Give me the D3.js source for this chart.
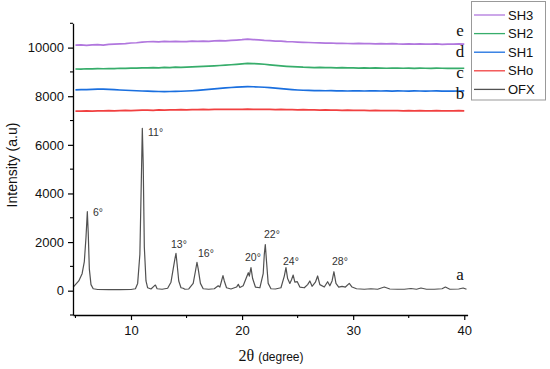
<!DOCTYPE html>
<html><head><meta charset="utf-8">
<script src="https://cdn.jsdelivr.net/npm/d3@7"></script>
<style>html,body{margin:0;padding:0;background:#fff;}svg{display:block;}</style>
</head><body><svg id="c" width="550" height="369"></svg>
<script>
// ---- data ----
const seriesNames = ["SH3", "SH2", "SH1", "SHo", "OFX"];
const seriesLetters = ["e", "d", "c", "b", "a"];
const seriesColors = ["#B177DE", "#37AD6B", "#1A6FDF", "#F14040", "#515151"];
const xTicks = [10, 20, 30, 40];
const yTicks = [0, 2000, 4000, 6000, 8000, 10000];

const thetaGrid = [5,5.5,6,6.5,7,7.5,8,8.5,9,9.5,10,10.5,11,11.5,12,12.5,13,13.5,14,14.5,15,15.5,16,16.5,17,17.5,18,18.5,19,19.5,20,20.5,21,21.5,22,22.5,23,23.5,24,24.5,25,25.5,26,26.5,27,27.5,28,28.5,29,29.5,30,30.5,31,31.5,32,32.5,33,33.5,34,34.5,35,35.5,36,36.5,37,37.5,38,38.5,39,39.5,40];

const sh3 = [10100,10115,10095,10110,10120,10105,10130,10140,10150,10165,
10190,10200,10225,10240,10250,10235,10255,10245,10260,10250,
10245,10265,10255,10270,10260,10275,10285,10280,10300,10310,
10325,10350,10330,10320,10300,10290,10270,10265,10245,10240,
10225,10215,10210,10200,10195,10185,10190,10175,10180,10170,
10165,10175,10160,10165,10155,10160,10150,10165,10150,10145,
10155,10140,10150,10145,10140,10150,10135,10145,10140,10150,10145];
const sh2 = [9120,9115,9130,9125,9135,9130,9140,9135,9150,9145,
9160,9155,9165,9170,9175,9170,9185,9180,9195,9190,
9200,9210,9215,9225,9240,9250,9265,9280,9295,9310,
9330,9350,9345,9330,9315,9290,9270,9250,9230,9215,
9205,9195,9190,9180,9185,9175,9180,9170,9175,9165,
9170,9160,9165,9155,9165,9160,9150,9160,9155,9150,
9160,9145,9155,9150,9145,9155,9150,9145,9150,9145,9150];
const sh1 = [8260,8270,8275,8285,8295,8290,8280,8270,8255,8245,
8235,8225,8215,8210,8200,8195,8190,8195,8200,8205,
8215,8225,8240,8260,8280,8300,8320,8345,8360,8375,
8385,8395,8390,8380,8370,8355,8335,8310,8290,8270,
8255,8245,8240,8230,8235,8225,8230,8220,8225,8215,
8225,8220,8215,8225,8220,8215,8220,8210,8220,8215,
8210,8220,8215,8210,8215,8220,8210,8215,8210,8215,8220];
const sho = [7390,7385,7395,7390,7400,7395,7405,7400,7410,7415,
7410,7420,7425,7430,7420,7435,7430,7440,7435,7445,
7440,7450,7445,7455,7450,7460,7455,7465,7460,7465,
7460,7470,7460,7465,7455,7460,7450,7455,7445,7450,
7440,7445,7435,7440,7430,7435,7425,7430,7420,7425,
7415,7420,7415,7410,7415,7405,7410,7405,7410,7400,
7405,7400,7405,7395,7400,7405,7400,7395,7400,7405,7400];

const ofxTheta = [4.8,5.0,5.3,5.6,5.8,5.95,6.07,6.15,6.25,6.4,6.6,7.0,8,9,10,10.4,10.6,10.8,10.95,11.02,11.1,11.2,11.35,11.5,11.8,12.1,12.2,12.35,12.8,13.3,13.6,13.8,13.95,14.05,14.15,14.3,14.5,14.7,14.85,15.2,15.6,15.8,15.94,16.05,16.25,16.5,17.0,17.5,17.85,18.0,18.15,18.28,18.4,18.6,19,19.5,19.66,19.8,20.1,20.4,20.56,20.65,20.8,20.95,21.2,21.6,21.9,22.0,22.09,22.2,22.35,22.6,23.0,23.5,23.8,23.95,24.1,24.3,24.45,24.6,24.75,24.97,25.2,25.6,25.9,26.1,26.3,26.6,26.8,27.0,27.4,27.7,27.9,28.1,28.27,28.45,28.7,29,29.3,29.65,29.9,30.3,31,31.6,32.2,32.8,33.3,34,34.6,35.2,35.7,36.1,36.6,37.3,38.0,38.3,38.7,39.5,39.9,40.2];
const ofxI = [150,250,400,700,1200,2200,3250,2400,900,250,80,50,40,45,50,80,300,1500,5000,6680,5200,1800,400,120,70,200,230,80,60,100,350,900,1300,1540,1100,400,120,100,60,70,300,800,1170,900,300,80,60,80,200,150,400,620,400,120,70,150,260,130,200,550,740,600,950,500,150,120,700,1500,1900,1200,300,80,70,120,600,950,500,300,450,645,350,370,150,120,250,400,180,350,605,250,150,370,200,400,780,300,150,180,150,300,150,80,60,80,60,150,70,60,60,90,60,110,60,60,80,150,60,70,110,60];

const peakLabels = ["6°", "11°", "13°", "16°", "20°", "22°", "24°", "28°"];
const peakLabelTheta = [6.58, 11.53, 13.6, 16.03, 20.26, 21.97, 23.68, 28.09];
const peakLabelI = [3070, 6370, 1760, 1390, 1220, 2170, 1060, 1060];

// ---- chart ----
const svg = d3.select("#c");
const x = d3.scaleLinear().domain([4.78, 40.3]).range([73, 467.6]);
const y = d3.scaleLinear().domain([-1000, 11000]).range([315, 23.3]);
const font = "'Liberation Sans', Arial, sans-serif";

const flat = [sh3, sh2, sh1, sho];
const line = d3.line().x(d => x(d[0])).y(d => y(d[1]));

flat.forEach((vals, i) => {
  const pts = thetaGrid.map((t, k) => [t, vals[k]]).filter(p => p[1] !== undefined);
  svg.append("path").attr("d", line(pts)).attr("fill", "none")
    .attr("stroke", seriesColors[i]).attr("stroke-width", 1.7).attr("stroke-linejoin", "round");
});
const ofxPts = ofxTheta.map((t, k) => [t, ofxI[k]]);
svg.append("path").attr("d", line(ofxPts)).attr("fill", "none")
  .attr("stroke", seriesColors[4]).attr("stroke-width", 1.2).attr("stroke-linejoin", "round");

// axes
const xAxis = d3.axisBottom(x).tickValues(xTicks).tickSize(5).tickSizeOuter(0).tickFormat(d3.format("d"));
const gx = svg.append("g").attr("transform", "translate(0,315)").call(xAxis);
const yAxis = d3.axisLeft(y).tickValues(yTicks).tickSize(5).tickSizeOuter(0).tickFormat(d3.format("d"));
const gy = svg.append("g").attr("transform", "translate(73,0)").call(yAxis);
[gx, gy].forEach(g => {
  g.select(".domain").attr("stroke", "#000").attr("stroke-width", 1.3);
  g.selectAll(".tick line").attr("stroke", "#000").attr("stroke-width", 1.2);
  g.selectAll(".tick text").attr("font-family", font).attr("font-size", 13).attr("fill", "#111");
});
gx.selectAll(".tick text").attr("dy", "0.71em").attr("y", 11);
gy.selectAll(".tick text").attr("x", -9);
// minor ticks
svg.append("g").selectAll("line").data([5, 15, 25, 35]).join("line")
  .attr("x1", d => x(d)).attr("x2", d => x(d)).attr("y1", 315).attr("y2", 318)
  .attr("stroke", "#000").attr("stroke-width", 1.1);
svg.append("g").selectAll("line").data([-1000, 1000, 3000, 5000, 7000, 9000, 11000]).join("line")
  .attr("x1", 73).attr("x2", 70).attr("y1", d => y(d)).attr("y2", d => y(d))
  .attr("stroke", "#000").attr("stroke-width", 1.1);

// axis titles
svg.append("text").attr("transform", "translate(17,165) rotate(-90)")
  .attr("text-anchor", "middle").attr("font-family", font).attr("font-size", 14).attr("fill", "#111")
  .text("Intensity (a.u)");
const xt = svg.append("text").attr("x", 271).attr("y", 361).attr("text-anchor", "middle").attr("fill", "#111");
xt.append("tspan").attr("font-family", "'Liberation Serif', 'Times New Roman', serif").attr("font-size", 16).text("2θ ");
xt.append("tspan").attr("font-family", font).attr("font-size", 12).text("(degree)");

// peak labels
svg.append("g").selectAll("text").data(peakLabels).join("text")
  .attr("x", (d, i) => x(peakLabelTheta[i])).attr("y", (d, i) => y(peakLabelI[i]))
  .attr("font-family", font).attr("font-size", 10.5).attr("fill", "#333").text(d => d);

// series letters
const letterY = [36, 57, 78, 99, 280];
svg.append("g").selectAll("text").data(seriesLetters).join("text")
  .attr("x", 460).attr("y", (d, i) => letterY[i]).attr("text-anchor", "middle")
  .attr("font-family", "'Liberation Serif', 'Times New Roman', serif").attr("font-size", 17).attr("fill", "#111")
  .text(d => d);

// legend
const lg = svg.append("g");
lg.append("rect").attr("x", 471.5).attr("y", 1.5).attr("width", 74).attr("height", 98.5)
  .attr("fill", "#fff").attr("stroke", "#999").attr("stroke-width", 1);
seriesNames.forEach((n, i) => {
  const yy = 15 + i * 18.6;
  lg.append("line").attr("x1", 474).attr("x2", 505).attr("y1", yy).attr("y2", yy)
    .attr("stroke", seriesColors[i]).attr("stroke-width", 1.3);
  lg.append("text").attr("x", 508).attr("y", yy).attr("dy", "0.36em")
    .attr("font-family", font).attr("font-size", 13).attr("fill", "#111").text(n);
});
</script></body></html>
